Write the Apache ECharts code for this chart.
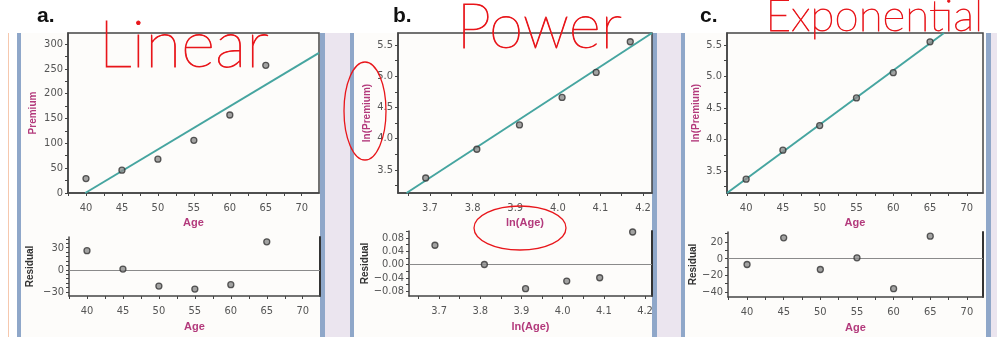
<!DOCTYPE html>
<html>
<head>
<meta charset="utf-8">
<script src="https://cdn.jsdelivr.net/npm/echarts@6/dist/echarts.min.js"></script>
<style>
  html, body { margin: 0; padding: 0; background: #fff; }
  #chart { width: 997px; height: 337px; }
</style>
</head>
<body>
<div id="chart"></div>
<script>
// data
var ages = [40, 45, 50, 55, 60, 65];
var premium = [29, 46, 68, 106, 157, 257];
var lnAge = [3.69, 3.81, 3.91, 4.01, 4.09, 4.17];
var lnPremium = [3.37, 3.83, 4.22, 4.66, 5.06, 5.55];
var residLinear = [26, 1, -22, -26, -20, 38];
var residPower = [0.058, 0.0, -0.073, -0.05, -0.04, 0.098];
var residExp = [-7, 25, -13, 1, -36, 27];
// fitted lines (end points)
var fitLinear = [[39.9, 0], [72.4, 282]];
var fitPower = [[3.645, 3.13], [4.221, 5.69]];
var fitExp = [[37.4, 3.15], [66.9, 5.69]];

// tick labels / tick marks
var ageLabels = [40, 45, 50, 55, 60, 65, 70];
var ageTicks = [37.5, 40, 42.5, 45, 47.5, 50, 52.5, 55, 57.5, 60, 62.5, 65, 67.5, 70];
var premLabels = [0, 50, 100, 150, 200, 250, 300];
var premTicks = [0, 25, 50, 75, 100, 125, 150, 175, 200, 225, 250, 275, 300];
var lnPremLabels = [3.5, 4.0, 4.5, 5.0, 5.5];
var lnPremTicks = [3.25, 3.5, 3.75, 4.0, 4.25, 4.5, 4.75, 5.0, 5.25, 5.5];
var lnAgeLabels = [3.7, 3.8, 3.9, 4.0, 4.1, 4.2];
var lnAgeTicks = [3.65, 3.7, 3.75, 3.8, 3.85, 3.9, 3.95, 4.0, 4.05, 4.1, 4.15, 4.2];
var resALabels = [-30, 0, 30];
var resATicks = [-30, -24, -18, -12, -6, 0, 6, 12, 18, 24, 30, 36, 42];
var resBLabels = [-0.08, -0.04, 0, 0.04, 0.08];
var resBTicks = [-0.08, -0.06, -0.04, -0.02, 0, 0.02, 0.04, 0.06, 0.08, 0.1];
var resCLabels = [-40, -20, 0, 20];
var resCTicks = [-40, -30, -20, -10, 0, 10, 20, 30];

var pair = function(xs, ys) { return xs.map(function(x, i) { return [x, ys[i]]; }); };

var tickFont = "'Liberation Sans Narrow', 'DejaVu Sans Condensed', 'Arial Narrow', sans-serif";
var axisCol = '#444';
var labelCol = '#555';
var magenta = '#b33a7c';
var teal = '#46a5a0';
var red = '#e8161b';
var hand = "Lato, Inter, Roboto, sans-serif";

function minus(s) { return String(s).replace('-', '\u2212'); }

function xAx(grid, min, max, labels, ticks, name, digits, gap) {
  return {
    type: 'value', gridIndex: grid, min: min, max: max,
    name: name, nameLocation: 'middle', nameGap: gap,
    nameTextStyle: { color: magenta, fontWeight: 'bold', fontSize: 11, fontFamily: 'Liberation Sans, Arial, sans-serif' },
    axisLine: { show: true, onZero: false, lineStyle: { color: axisCol, width: 1.5 } },
    axisTick: { show: true, length: 3, customValues: ticks, lineStyle: { color: axisCol } },
    axisLabel: {
      customValues: labels, margin: 10, color: labelCol, fontSize: 11, fontFamily: tickFont,
      formatter: function(v) { return digits ? Number(v).toFixed(digits) : String(v); }
    },
    splitLine: { show: false }
  };
}

function yAx(grid, min, max, labels, ticks, name, nameCol, digits, gap) {
  return {
    type: 'value', gridIndex: grid, min: min, max: max,
    name: name, nameLocation: 'middle', nameGap: gap, nameRotate: 90,
    nameTextStyle: { color: nameCol, fontWeight: 'bold', fontSize: 10, fontFamily: 'Liberation Sans, Arial, sans-serif' },
    axisLine: { show: true, onZero: false, lineStyle: { color: axisCol, width: 1.5 } },
    axisTick: { show: true, length: 3, customValues: ticks, lineStyle: { color: axisCol } },
    axisLabel: {
      customValues: labels, margin: 5, color: labelCol, fontSize: 11, fontFamily: tickFont,
      formatter: function(v) { return minus(digits ? Number(v).toFixed(digits) : String(v)); }
    },
    splitLine: { show: false }
  };
}

function rightLine(grid, min, max) {
  return {
    type: 'value', gridIndex: grid, min: min, max: max, position: 'right',
    axisLine: { show: true, onZero: false, lineStyle: { color: '#333', width: 2 } },
    axisTick: { show: false }, axisLabel: { show: false }, splitLine: { show: false }
  };
}

function pts(xi, yi, data, withZero) {
  var s = {
    type: 'scatter', xAxisIndex: xi, yAxisIndex: yi, data: data,
    symbol: 'circle', symbolSize: 6, z: 5,
    itemStyle: { color: '#8c8c8c', borderColor: '#333', borderWidth: 1.3 }
  };
  if (withZero) {
    s.markLine = {
      silent: true, symbol: 'none', label: { show: false }, animation: false,
      lineStyle: { color: '#8a8a8a', type: 'solid', width: 1.2 },
      data: [{ yAxis: 0 }]
    };
  }
  return s;
}

function fit(xi, yi, data) {
  return {
    type: 'line', xAxisIndex: xi, yAxisIndex: yi, data: data,
    showSymbol: false, clip: true, z: 3,
    lineStyle: { color: teal, width: 2 }
  };
}

var frame = { show: true, borderColor: axisCol, borderWidth: 1.5, backgroundColor: '#fdfcfa' };

var chart = echarts.init(document.getElementById('chart'), null, { renderer: 'canvas' });
chart.setOption({
  animation: false,
  backgroundColor: '#ffffff',
  grid: [
    Object.assign({ left: 68, top: 33, width: 251, height: 160 }, frame),
    { left: 69, top: 237, width: 251, height: 59 },
    Object.assign({ left: 398, top: 33, width: 254, height: 160 }, frame),
    { left: 409, top: 231, width: 243, height: 65 },
    Object.assign({ left: 727, top: 33, width: 256, height: 160 }, frame),
    { left: 728, top: 232, width: 255, height: 65 }
  ],
  xAxis: [
    xAx(0, 37.5, 72.4, ageLabels, ageTicks, 'Age', 0, 24),
    xAx(1, 37.5, 72.4, ageLabels, ageTicks, 'Age', 0, 25),
    xAx(2, 3.625, 4.221, lnAgeLabels, lnAgeTicks, 'ln(Age)', 1, 24),
    xAx(3, 3.627, 4.217, lnAgeLabels, lnAgeTicks, 'ln(Age)', 1, 25),
    xAx(4, 37.4, 72.2, ageLabels, ageTicks, 'Age', 0, 24),
    xAx(5, 37.4, 72.2, ageLabels, ageTicks, 'Age', 0, 25)
  ],
  yAxis: [
    yAx(0, 0, 322, premLabels, premTicks, 'Premium', magenta, 0, 30),
    yAx(1, -35.4, 44.5, resALabels, resATicks, 'Residual', '#333', 0, 34),
    yAx(2, 3.13, 5.69, lnPremLabels, lnPremTicks, 'ln(Premium)', magenta, 1, 26),
    yAx(3, -0.095, 0.101, resBLabels, resBTicks, 'Residual', '#333', 2, 35),
    yAx(4, 3.15, 5.69, lnPremLabels, lnPremTicks, 'ln(Premium)', magenta, 1, 26),
    yAx(5, -46, 32, resCLabels, resCTicks, 'Residual', '#333', 0, 26),
    rightLine(1, -35.4, 44.5),
    rightLine(3, -0.095, 0.101),
    rightLine(5, -46, 32)
  ],
  series: [
    fit(0, 0, fitLinear),
    pts(0, 0, pair(ages, premium)),
    pts(1, 1, pair(ages, residLinear), true),
    fit(2, 2, fitPower),
    pts(2, 2, pair(lnAge, lnPremium)),
    pts(3, 3, pair(lnAge, residPower), true),
    fit(4, 4, fitExp),
    pts(4, 4, pair(ages, lnPremium)),
    pts(5, 5, pair(ages, residExp), true)
  ],
  graphic: [
    // panel frames and background strips
    { type: 'rect', z: -10, silent: true, shape: { x: 21, y: 33, width: 299, height: 304 }, style: { fill: '#fdfcfa' } },
    { type: 'rect', z: -10, silent: true, shape: { x: 354, y: 33, width: 298, height: 304 }, style: { fill: '#fdfcfa' } },
    { type: 'rect', z: -10, silent: true, shape: { x: 685, y: 33, width: 301, height: 304 }, style: { fill: '#fdfcfa' } },
    { type: 'rect', z: -10, silent: true, shape: { x: 325, y: 33, width: 25, height: 304 }, style: { fill: '#ebe5ef' } },
    { type: 'rect', z: -10, silent: true, shape: { x: 657, y: 33, width: 24, height: 304 }, style: { fill: '#ebe5ef' } },
    { type: 'rect', z: -10, silent: true, shape: { x: 991, y: 33, width: 6, height: 304 }, style: { fill: '#ebe5ef' } },
    { type: 'rect', z: -9, silent: true, shape: { x: 17, y: 33, width: 4, height: 304 }, style: { fill: '#8fa7c9' } },
    { type: 'rect', z: -9, silent: true, shape: { x: 320, y: 33, width: 5, height: 304 }, style: { fill: '#8fa7c9' } },
    { type: 'rect', z: -9, silent: true, shape: { x: 350, y: 33, width: 4, height: 304 }, style: { fill: '#8fa7c9' } },
    { type: 'rect', z: -9, silent: true, shape: { x: 652, y: 33, width: 5, height: 304 }, style: { fill: '#8fa7c9' } },
    { type: 'rect', z: -9, silent: true, shape: { x: 681, y: 33, width: 4, height: 304 }, style: { fill: '#8fa7c9' } },
    { type: 'rect', z: -9, silent: true, shape: { x: 986, y: 33, width: 5, height: 304 }, style: { fill: '#8fa7c9' } },
    { type: 'rect', z: -9, silent: true, shape: { x: 8, y: 33, width: 1, height: 304 }, style: { fill: '#f6c8ae' } },
    // panel letters
    { type: 'text', z: 20, left: 37, top: 6, style: { text: 'a.', fill: '#111', font: 'bold 21px "Liberation Sans", Arial, sans-serif' } },
    { type: 'text', z: 20, left: 393, top: 6, style: { text: 'b.', fill: '#111', font: 'bold 21px "Liberation Sans", Arial, sans-serif' } },
    { type: 'text', z: 20, left: 700, top: 6, style: { text: 'c.', fill: '#111', font: 'bold 21px "Liberation Sans", Arial, sans-serif' } },
    // handwritten notes
    { type: 'text', z: 30, left: 98, top: 12, style: { text: 'Linear', fill: red, stroke: red, lineWidth: 0.8, font: '100 66px ' + hand } },
    { type: 'text', z: 30, left: 456, top: -3, style: { text: 'Power', fill: red, stroke: red, lineWidth: 0.8, font: '100 62px ' + hand } },
    { type: 'text', z: 30, left: 765, top: -6, style: { text: 'Exponential', fill: red, stroke: red, lineWidth: 0.8, font: '100 44px ' + hand } },
    { type: 'ellipse', z: 30, silent: true, shape: { cx: 365, cy: 111, rx: 21, ry: 49 }, style: { fill: 'none', stroke: red, lineWidth: 1.3 } },
    { type: 'ellipse', z: 30, silent: true, shape: { cx: 520, cy: 228, rx: 46, ry: 22 }, style: { fill: 'none', stroke: red, lineWidth: 1.3 } }
  ]
});
</script>
</body>
</html>
